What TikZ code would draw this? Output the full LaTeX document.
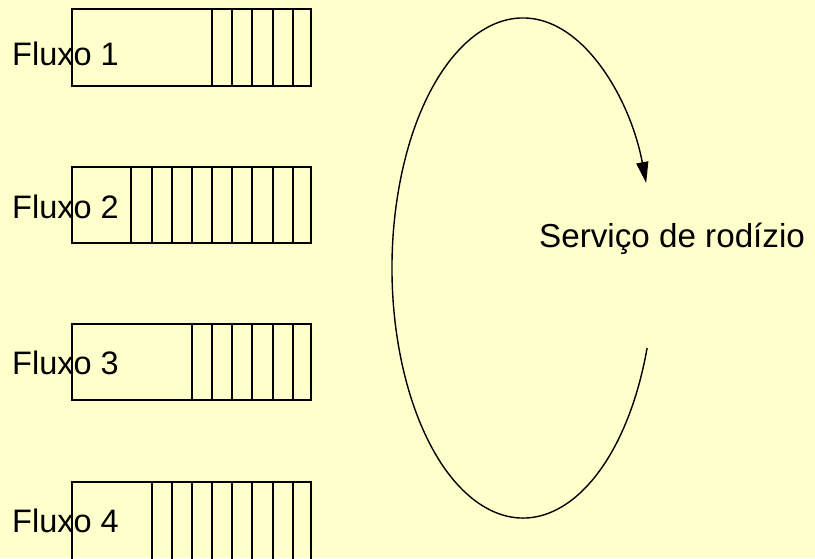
\documentclass[tikz,border=0pt]{standalone}
\usepackage{fontspec}
\setmainfont{Liberation Sans}
\usetikzlibrary{arrows.meta,calc}
\definecolor{bgyellow}{HTML}{FFFFCC}
\tikzset{
  lbl/.style={anchor=base west, inner sep=0pt, font=\fontsize{32.5}{38}\selectfont, text=black},
  qline/.style={draw=black, line width=1.6pt},
  loopline/.style={draw=black, line width=1.4pt, -{Triangle[length=21pt,width=12pt]}}
}
\begin{document}
\begin{tikzpicture}[x=1pt,y=1pt]
\fill[bgyellow] (0,0) rectangle (815,-558);
\clip (0,0) rectangle (815,-558);
% queue 1
\draw[qline] (72,-9) rectangle (311,-86);
\foreach \x in {212,232,252,273,293} \draw[qline] (\x,-9) -- (\x,-86);
% queue 2
\draw[qline] (72,-167) rectangle (311,-243);
\foreach \x in {131,152,172,192,212,232,252,273,293} \draw[qline] (\x,-167) -- (\x,-243);
% queue 3
\draw[qline] (72,-324) rectangle (311,-400);
\foreach \x in {192,212,232,252,273,293} \draw[qline] (\x,-324) -- (\x,-400);
% queue 4
\draw[qline] (72,-482) rectangle (311,-560);
\foreach \x in {152,172,192,212,232,252,273,293} \draw[qline] (\x,-482) -- (\x,-560);
% labels
\node[lbl] (f1) at (12,-65) {Fluxo 1};
\node[lbl] (f2) at (12,-218) {Fluxo 2};
\node[lbl] (f3) at (12,-374) {Fluxo 3};
\node[lbl] (f4) at (12,-532) {Fluxo 4};
\node[lbl, font=\fontsize{33.2}{38}\selectfont] (srv) at (539,-247) {Serviço de rodízio};
% round-robin loop
\coordinate (c) at (523,-268);
\coordinate (s) at ($(c)+(-18.66:131 and 250)$);
\draw[loopline] (s) arc[start angle=-18.66, end angle=-340.12, x radius=131, y radius=250];
\end{tikzpicture}
\end{document}
